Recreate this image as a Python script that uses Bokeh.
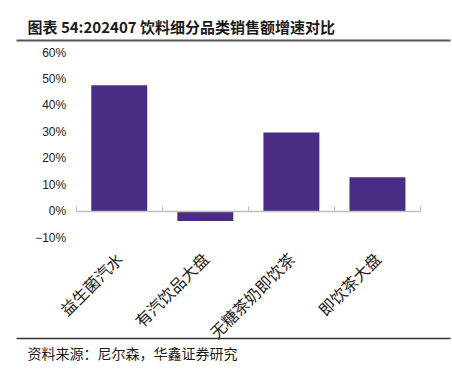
import math
from bokeh.plotting import figure
from bokeh.models import Range1d, FixedTicker, LinearAxis, ColumnDataSource
from bokeh.core.properties import value
from bokeh.embed import file_html
from bokeh.resources import INLINE

# ---- data ----
categories = ["益生菌汽水", "有汽饮品大盘", "无糖茶奶即饮茶", "即饮茶大盘"]
growth_pct = [47.6, -3.8, 29.7, 12.8]
y_ticks = [-10, 0, 10, 20, 30, 40, 50, 60]
y_tick_labels = ["\u221210%", "0%", "10%", "20%", "30%", "40%", "50%", "60%"]
title_text = "图表 54:202407 饮料细分品类销售额增速对比"
source_text = "资料来源：尼尔森，华鑫证券研究"

# ---- layout (pixels, figure coordinates) ----
W, H = 452, 376
PL, PR = 75.7, 420.0      # chart area left/right
PT, PB = 52.0, 237.0      # chart area top/bottom
BAR_COLOR = "#4B2C84"
CJK = "Noto Sans CJK SC"

n = len(categories)
y0, y1 = y_ticks[0], y_ticks[-1]
ppx = (PR - PL) / n
ppy = (PB - PT) / (y1 - y0)

p = figure(width=W, height=H,
           x_range=Range1d(0 - PL / ppx, n + (W - PR) / ppx),
           y_range=Range1d(y0 - (H - PB) / ppy, y1 + PT / ppy),
           output_backend="svg", toolbar_location=None,
           x_axis_location=None, y_axis_location=None,
           min_border=0, min_border_left=0, min_border_right=0,
           min_border_top=0, min_border_bottom=0)
p.outline_line_color = None
p.xgrid.visible = False
p.ygrid.visible = False
# pixel-space ranges for header/footer decoration (y measured from top)
p.extra_x_ranges = {"px": Range1d(0, W)}
p.extra_y_ranges = {"px": Range1d(H, 0)}

xs = [i + 0.5 for i in range(n)]
src = ColumnDataSource(dict(x=xs, top=growth_pct, cat=categories))
p.vbar(x="x", top="top", bottom=0, width=0.65, source=src,
       fill_color=BAR_COLOR, line_color=None)

# y axis
yaxis = LinearAxis(fixed_location=0, ticker=FixedTicker(ticks=y_ticks), bounds=(y0, y1))
yaxis.major_label_overrides = {t: l for t, l in zip(y_ticks, y_tick_labels)}
yaxis.axis_line_color = None
yaxis.major_tick_line_color = None
yaxis.minor_tick_line_color = None
yaxis.major_tick_out = 0
yaxis.major_tick_in = 0
yaxis.major_label_standoff = 10
yaxis.major_label_text_font = "Liberation Sans"
yaxis.major_label_text_font_size = "12px"
yaxis.major_label_text_color = "#222222"
p.add_layout(yaxis, "left")

# category labels axis (at bottom of chart area)
xaxis = LinearAxis(fixed_location=y0, ticker=FixedTicker(ticks=xs), bounds=(0, n))
xaxis.major_label_overrides = {x: c for x, c in zip(xs, categories)}
xaxis.major_label_orientation = math.pi / 4
xaxis.axis_line_color = None
xaxis.major_tick_line_color = None
xaxis.minor_tick_line_color = None
xaxis.major_tick_out = 0
xaxis.major_tick_in = 0
xaxis.major_label_standoff = 18
xaxis.major_label_text_font = CJK
xaxis.major_label_text_font_size = "16px"
xaxis.major_label_text_color = "#222222"
p.add_layout(xaxis, "below")

# zero line with category boundary ticks
zero_axis = LinearAxis(fixed_location=0, ticker=FixedTicker(ticks=list(range(n + 1))), bounds=(0, n))
zero_axis.axis_line_color = "#BFBFBF"
zero_axis.axis_line_width = 1.5
zero_axis.major_tick_line_color = "#BFBFBF"
zero_axis.major_tick_in = 5
zero_axis.major_tick_out = 0
zero_axis.minor_tick_line_color = None
zero_axis.major_label_text_color = None
p.add_layout(zero_axis, "below")

# ---- header ----
p.text(x=[27], y=[26], text=[title_text], text_font=value(CJK),
       text_font_size="15px", text_font_style="bold", text_color="#1a1a1a",
       text_baseline="middle", text_align="left",
       x_range_name="px", y_range_name="px")
p.line(x=[16, 450], y=[40, 40], line_color="#555555", line_width=2,
       x_range_name="px", y_range_name="px")

# ---- footer ----
p.line(x=[16, 450], y=[338, 338], line_color="#333333", line_width=1.5,
       x_range_name="px", y_range_name="px")
p.text(x=[27], y=[352], text=[source_text], text_font=value(CJK),
       text_font_size="14px", text_color="#1a1a1a",
       text_baseline="middle", text_align="left",
       x_range_name="px", y_range_name="px")

open("out.html", "w").write(file_html(p, INLINE))
